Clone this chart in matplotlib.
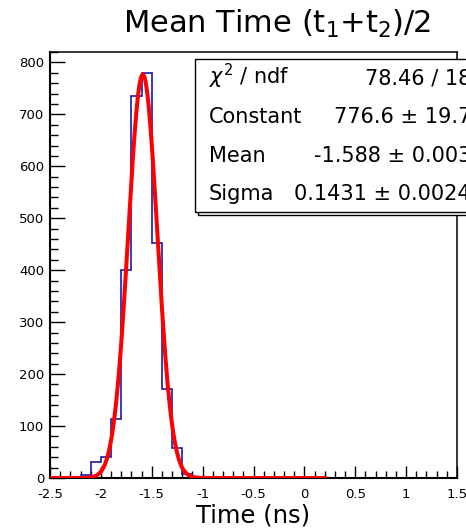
import matplotlib
matplotlib.use("Agg")
import matplotlib.pyplot as plt
import numpy as np
from matplotlib.patches import Rectangle
from matplotlib.ticker import MultipleLocator, FormatStrFormatter

plt.rcParams['axes.unicode_minus'] = False

# histogram: 40 bins of 0.1 ns between -2.5 and 1.5
x_lo, x_hi, n_bins = -2.5, 1.5, 40
counts = [0, 0, 0, 6, 30, 40, 114, 400, 735, 780,
          453, 172, 57, 8, 0, 0, 0, 0, 0, 0,
          0, 0, 0, 0, 0, 0, 0, 0, 0, 0,
          0, 0, 0, 0, 0, 0, 0, 0, 0, 0]

# gaussian fit result
fit_const = 776.6
fit_mean = -1.588
fit_sigma = 0.1431
fit_lo, fit_hi = -2.5, 0.2

stat_names = [r'$\chi^2$ / ndf', 'Constant', 'Mean', 'Sigma']
stat_values = ['78.46 / 18', '776.6 ± 19.7', '-1.588 ± 0.003', '0.1431 ± 0.0024']

W, H = 466, 531
fig = plt.figure(figsize=(W/100, H/100), dpi=100)
ax = fig.add_axes([50/W, 1-478/H, 407/W, 426/H])

edges = np.linspace(x_lo, x_hi, n_bins + 1)
ax.stairs(counts, edges, color='#1a1aa8', lw=1.2, zorder=2)

xf = np.linspace(fit_lo, fit_hi, 300)
yf = fit_const * np.exp(-0.5*((xf - fit_mean)/fit_sigma)**2)
ax.plot(xf, yf, color='red', lw=2.9, zorder=3, solid_joinstyle='miter')

ax.set_xlim(x_lo, x_hi)
ax.set_ylim(0, 820)
ax.xaxis.set_major_locator(MultipleLocator(0.5))
ax.xaxis.set_minor_locator(MultipleLocator(0.1))
ax.xaxis.set_major_formatter(FormatStrFormatter('%g'))
ax.yaxis.set_major_locator(MultipleLocator(100))
ax.yaxis.set_minor_locator(MultipleLocator(20))
ax.tick_params(which='both', direction='in', top=False, right=False,
               width=1.0, labelsize=9.5)
ax.tick_params(axis='y', which='major', length=10.8, pad=4.3)
ax.tick_params(axis='y', which='minor', length=5.5)
ax.tick_params(axis='x', which='major', length=8.6, pad=7)
ax.tick_params(axis='x', which='minor', length=4.8)
for s in ['left', 'bottom']:
    ax.spines[s].set_linewidth(1.5)
for s in ['top', 'right']:
    ax.spines[s].set_linewidth(1.1)

ax.set_xlabel('Time (ns)', fontsize=17.5, va='baseline')
ax.xaxis.set_label_coords(0.5, -(523-478)/426)

fig.text(123/W, 1-33/H, r'Mean Time (t$_{1}$+t$_{2}$)/2', fontsize=22,
         ha='left', va='baseline')

# stats box (runs off the right edge like the original)
bx0, bx1, by0, by1 = 195, 495, 59, 212
shadow = Rectangle(((bx0+3)/W, 1-(by1+3)/H), (bx1-bx0)/W, (by1-by0)/H,
                   transform=fig.transFigure, facecolor='white',
                   edgecolor='black', lw=1.0, zorder=4)
box = Rectangle((bx0/W, 1-by1/H), (bx1-bx0)/W, (by1-by0)/H,
                transform=fig.transFigure, facecolor='white',
                edgecolor='black', lw=1.0, zorder=5)
fig.add_artist(shadow)
fig.add_artist(box)
baselines = [84, 123, 161.5, 200]
for name, val, yb in zip(stat_names, stat_values, baselines):
    fig.text(209/W, 1-yb/H, name, fontsize=15, ha='left', va='baseline', zorder=6)
    fig.text(471/W, 1-yb/H, val, fontsize=15, ha='right', va='baseline', zorder=6)

fig.savefig('out.png', dpi=100)
